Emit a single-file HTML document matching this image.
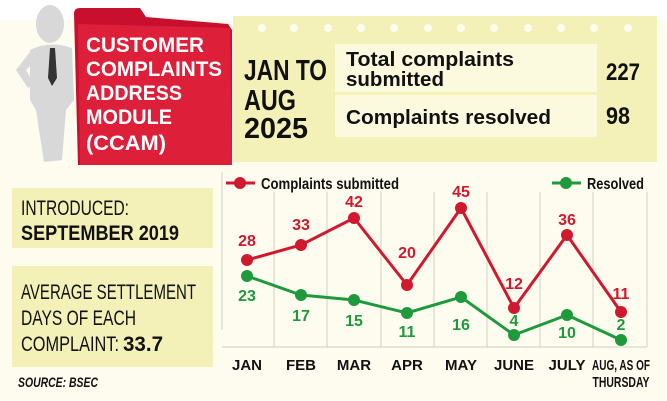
<!DOCTYPE html>
<html><head><meta charset="utf-8"><style>
html,body{margin:0;padding:0;background:#fdfcef;}
svg{display:block;font-family:"Liberation Sans Narrow","Liberation Sans",sans-serif;}
</style></head><body>
<svg width="667" height="401" viewBox="0 0 667 401" xmlns="http://www.w3.org/2000/svg">
<rect width="667" height="401" fill="#fdfcef"/>
<rect x="0" y="0" width="667" height="20" fill="#ffffff"/>
<!-- notepad -->
<rect x="233" y="16" width="424" height="146" fill="#f3f1b8"/>
<g fill="#fdfcef">
<circle cx="262" cy="28" r="4"/><circle cx="294" cy="28" r="4"/><circle cx="328" cy="28" r="4"/><circle cx="361" cy="28" r="4"/><circle cx="394" cy="28" r="4"/><circle cx="428" cy="28" r="4"/><circle cx="461" cy="28" r="4"/><circle cx="494" cy="28" r="4"/><circle cx="528" cy="28" r="4"/><circle cx="561" cy="28" r="4"/><circle cx="594" cy="28" r="4"/><circle cx="628" cy="28" r="4"/>
</g>
<rect x="335" y="44" width="262" height="48" fill="#fbfadf"/>
<rect x="335" y="95" width="262" height="42" fill="#fbfadf"/>
<g font-weight="bold" fill="#111">
<text x="346" y="66" font-size="20" textLength="168" lengthAdjust="spacingAndGlyphs">Total complaints</text>
<text x="346" y="86" font-size="20" textLength="98" lengthAdjust="spacingAndGlyphs">submitted</text>
<text x="346" y="124" font-size="20" textLength="205" lengthAdjust="spacingAndGlyphs">Complaints resolved</text>
<text x="606" y="80" font-size="24" textLength="34" lengthAdjust="spacingAndGlyphs">227</text>
<text x="606" y="124" font-size="24" textLength="24" lengthAdjust="spacingAndGlyphs">98</text>
<text x="244" y="80" font-size="29" textLength="83" lengthAdjust="spacingAndGlyphs">JAN TO</text>
<text x="244" y="110" font-size="29" textLength="52" lengthAdjust="spacingAndGlyphs">AUG</text>
<text x="244" y="138" font-size="29" textLength="64" lengthAdjust="spacingAndGlyphs">2025</text>
</g>
<!-- folder -->
<path d="M74 14 Q74 8 80 8 L140 8 L146 17 L228 24 L232 30 L232 165 L78 165 Z" fill="#c8102e"/>
<path d="M78 24 L230 28 L232 165 L80 165 Z" fill="#dd1f3a"/>
<g font-weight="bold" fill="#fff" font-size="21">
<text x="86" y="52" textLength="118" lengthAdjust="spacingAndGlyphs">CUSTOMER</text>
<text x="86" y="76" textLength="136" lengthAdjust="spacingAndGlyphs">COMPLAINTS</text>
<text x="86" y="100" textLength="96" lengthAdjust="spacingAndGlyphs">ADDRESS</text>
<text x="86" y="124" textLength="86" lengthAdjust="spacingAndGlyphs">MODULE</text>
<text x="86" y="150" textLength="80" lengthAdjust="spacingAndGlyphs">(CCAM)</text>
</g>
<!-- person -->
<g fill="#d8d8d8">
<ellipse cx="50" cy="24" rx="14" ry="19"/>
<path d="M30 50 Q50 40 72 48 L74 100 L66 110 L62 160 L44 162 L36 110 L30 100 Z"/>
<path d="M30 52 L16 70 L28 88 L34 84 L26 70 L34 62 Z"/>
</g>
<path d="M50 48 L55 48 L57 78 L52 86 L48 78 Z" fill="#333"/>
<!-- left boxes -->
<rect x="12" y="188" width="201" height="60" fill="#f3f1b8"/>
<rect x="12" y="266" width="201" height="101" fill="#f3f1b8"/>
<g fill="#111" font-size="21">
<text x="21" y="215" textLength="108" lengthAdjust="spacingAndGlyphs">INTRODUCED:</text>
<text x="21" y="240" font-weight="bold" textLength="158" lengthAdjust="spacingAndGlyphs">SEPTEMBER 2019</text>
<text x="21" y="299" textLength="175" lengthAdjust="spacingAndGlyphs">AVERAGE SETTLEMENT</text>
<text x="21" y="325" textLength="115" lengthAdjust="spacingAndGlyphs">DAYS OF EACH</text>
<text x="21" y="351" textLength="98" lengthAdjust="spacingAndGlyphs">COMPLAINT:</text>
<text x="123" y="351" font-weight="bold" textLength="40" lengthAdjust="spacingAndGlyphs">33.7</text>
<text x="18" y="387" font-size="14" font-weight="bold" font-style="italic" textLength="80" lengthAdjust="spacingAndGlyphs">SOURCE: BSEC</text>
</g>
<!-- chart -->
<g stroke="#cfcfc4" stroke-width="1">
<line x1="222" y1="172" x2="222" y2="330"/>
<line x1="274" y1="192" x2="274" y2="347"/><line x1="327" y1="192" x2="327" y2="347"/><line x1="381" y1="192" x2="381" y2="347"/><line x1="434" y1="192" x2="434" y2="347"/><line x1="487" y1="192" x2="487" y2="347"/><line x1="540" y1="192" x2="540" y2="347"/><line x1="593" y1="192" x2="593" y2="347"/><line x1="647" y1="192" x2="647" y2="347"/>
<line x1="222" y1="347" x2="647" y2="347"/>
</g>
<polyline points="247,260 301,245 354,218 407,285 461,208 514,308 567,235 621,312" fill="none" stroke="#d0192f" stroke-width="3"/>
<polyline points="247,276 301,295 354,300 407,313 461,297 514,335 567,315 621,340" fill="none" stroke="#1e9a3c" stroke-width="3"/>
<g fill="#d0192f"><circle cx="247" cy="260" r="6"/><circle cx="301" cy="245" r="6"/><circle cx="354" cy="218" r="6"/><circle cx="407" cy="285" r="6"/><circle cx="461" cy="208" r="6"/><circle cx="514" cy="308" r="6"/><circle cx="567" cy="235" r="6"/><circle cx="621" cy="312" r="6"/></g>
<g fill="#1e9a3c"><circle cx="247" cy="276" r="6"/><circle cx="301" cy="295" r="6"/><circle cx="354" cy="300" r="6"/><circle cx="407" cy="313" r="6"/><circle cx="461" cy="297" r="6"/><circle cx="514" cy="335" r="6"/><circle cx="567" cy="315" r="6"/><circle cx="621" cy="340" r="6"/></g>
<g font-size="16" font-weight="bold" text-anchor="middle" fill="#d0192f">
<text x="247" y="246">28</text><text x="301" y="230">33</text><text x="354" y="207">42</text><text x="407" y="258">20</text><text x="461" y="197">45</text><text x="514" y="289">12</text><text x="567" y="225">36</text><text x="621" y="299">11</text>
</g>
<g font-size="16" font-weight="bold" text-anchor="middle" fill="#1e9a3c">
<text x="247" y="301">23</text><text x="301" y="321">17</text><text x="354" y="326">15</text><text x="407" y="337">11</text><text x="461" y="330">16</text><text x="514" y="326">4</text><text x="567" y="338">10</text><text x="621" y="330">2</text>
</g>
<!-- legend -->
<line x1="226" y1="183" x2="255" y2="183" stroke="#d0192f" stroke-width="3"/><circle cx="240" cy="183" r="6" fill="#d0192f"/>
<text x="261" y="189" font-size="16" font-weight="bold" fill="#111" textLength="138" lengthAdjust="spacingAndGlyphs">Complaints submitted</text>
<line x1="552" y1="183" x2="581" y2="183" stroke="#1e9a3c" stroke-width="3"/><circle cx="566" cy="183" r="6" fill="#1e9a3c"/>
<text x="587" y="189" font-size="16" font-weight="bold" fill="#111" textLength="57" lengthAdjust="spacingAndGlyphs">Resolved</text>
<g font-size="15" font-weight="bold" text-anchor="middle" fill="#111">
<text x="247" y="370">JAN</text><text x="301" y="370">FEB</text><text x="354" y="370">MAR</text><text x="407" y="370">APR</text><text x="461" y="370">MAY</text><text x="514" y="370">JUNE</text><text x="567" y="370">JULY</text>
<text x="621" y="370" textLength="58" lengthAdjust="spacingAndGlyphs">AUG, AS OF</text>
<text x="621" y="387" textLength="57" lengthAdjust="spacingAndGlyphs">THURSDAY</text>
</g>
</svg>
</body></html>
